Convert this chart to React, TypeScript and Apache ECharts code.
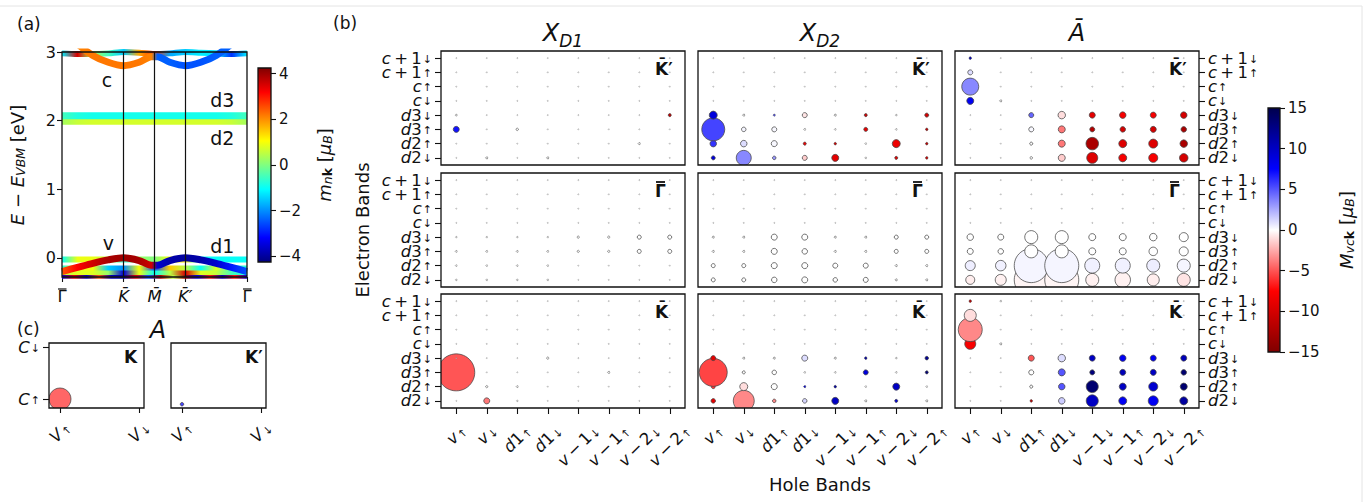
import React, { useEffect, useRef } from 'react';
import * as echarts from 'echarts';

const FONT = 'DejaVu Sans';
const INK = '#111111';
const THIN = '\u2009';

// ================= (a) band structure =================
const kTickVals = [0, 1, 1.5, 2, 3];
const kTickNames = ['\u0393', 'K\u0304', 'M\u0304', 'K\u0304\u2032', '\u0393'];
const kTickItalic = [false, true, true, true, false];
const kTickBar = [true, false, false, false, true];
const eTickVals = [0, 1, 2, 3];
const eMin = -0.28;
const eMax = 3;
const mTickVals = [-4, -2, 0, 2, 4];
const mLim = 4.25;

const kGrid = [0, 0.25, 0.5, 0.75, 1, 1.25, 1.5, 1.75, 2, 2.25, 2.5, 2.75, 3];
const kSplit = [0, 0.25, 0.5, 0.75, 1, 1.25, 1.45, 1.55, 1.75, 2, 2.25, 2.5, 2.75, 3];
const kFine = [0, 0.2, 0.4, 0.6, 0.8, 1, 1.2, 1.4, 1.6, 1.8, 2, 2.2, 2.4, 2.6, 2.8, 3];

const bandC_E = [3.35, 3.12, 2.95, 2.85, 2.8, 2.85, 2.93, 2.93, 2.85, 2.8, 2.85, 2.95, 3.12, 3.35];
const bandC_m = [2.1, 2.1, 2.2, 2.2, 2.2, 2.2, 2.1, -2.4, -2.4, -2.5, -2.5, -2.4, -2.4, -2.4];
const bandC1_E = [2.98, 2.97, 2.97, 2.98, 3.0, 2.99, 2.97, 2.98, 3.0, 2.99, 2.98, 2.97, 2.98];
const bandC1_m = [-1.2, 3.5, 0.3, -0.5, -1.5, 1.8, 2.8, -1.8, -1.5, -1.2, -1.3, -2.8, -1.2];
const bandD3_E = [2.07, 2.07, 2.07, 2.07, 2.07, 2.07, 2.07, 2.07, 2.07, 2.07, 2.07, 2.07, 2.07];
const bandD3_m = [-0.5, -0.8, -0.9, -0.9, -0.9, -0.9, -0.9, -0.9, -0.9, -0.9, -0.9, -0.8, -0.5];
const bandD2_E = [1.99, 1.99, 1.99, 1.99, 1.99, 1.99, 1.99, 1.99, 1.99, 1.99, 1.99, 1.99, 1.99];
const bandD2_m = [0.3, 0.6, 0.7, 0.7, 0.7, 0.7, 0.7, 0.7, 0.7, 0.7, 0.7, 0.6, 0.3];
const bandV_E = [-0.2, -0.14, -0.08, -0.03, 0, -0.04, -0.11, -0.11, -0.04, 0, -0.03, -0.08, -0.14, -0.2];
const bandV_m = [2.5, 3.2, 3.6, 3.9, 4.0, 3.9, 3.6, -3.6, -3.9, -4.0, -3.9, -3.6, -3.0, -2.5];
const bandD1_E = [-0.025, -0.025, -0.025, -0.025, -0.025, -0.025, -0.025, -0.025, -0.025, -0.025, -0.025, -0.025, -0.025];
const bandD1_m = [-1.0, 0.9, 0.9, 0.5, -0.8, 0.2, 0.0, 1.0, 1.2, -0.9, -1.0, -1.0, -1.0];
const bandL1_E = [-0.15, -0.15, -0.15, -0.15, -0.15, -0.15, -0.15, -0.15, -0.15, -0.15, -0.15, -0.15, -0.15];
const bandL1_m = [-0.8, 0.8, 1.0, -1.5, -2.0, 1.0, -2.5, 1.5, 0.5, -1.0, 0.8, -0.5, -0.8];
const bandL2_E = [-0.215, -0.215, -0.215, -0.215, -0.215, -0.215, -0.215, -0.215, -0.215, -0.215, -0.215, -0.215, -0.215];
const bandL2_m = [0.5, 0.8, 0.8, 0.2, -3.5, 0.9, -1.0, 0.5, 3.5, 0.8, 0.6, -0.5, -0.8];
const bandL3_E = [-0.27, -0.27, -0.27, -0.27, -0.27, -0.27, -0.27, -0.27, -0.27, -0.27, -0.27, -0.27, -0.27, -0.27, -0.27, -0.27];
const bandL3_m = [-3.5, 3.5, -3.8, 2.5, -3.8, -4.0, 3.5, -2.5, 3.8, 0.5, 4.0, -3.5, 3.0, -3.8, 3.0, -3.5];

const annText = ['c', 'v', 'd3', 'd2', 'd1'];
const annK = [0.73, 0.75, 2.6, 2.6, 2.6];
const annE = [2.59, 0.22, 2.3, 1.74, 0.17];

// ================= (b) excitons =================
const xCats = ['v\u2191', 'v\u2193', 'd1\u2191', 'd1\u2193', 'v\u22121\u2193', 'v\u22121\u2191', 'v\u22122\u2193', 'v\u22122\u2191'];
const yCats = ['d2\u2193', 'd2\u2191', 'd3\u2191', 'd3\u2193', 'c\u2193', 'c\u2191', 'c+1\u2191', 'c+1\u2193'];
const colTitles = ['XD1', 'XD2', 'A'];
const rowNames = ['K\u0304\u2032', '\u0393', 'K\u0304'];
const rowBar = [false, true, false];
const MV = 15;
const TINY = 1.1;

// [hole index, electron index, M_vck, amplitude]
const cellsXD1_Kp = [[0, 2, 7, 6], [0, 3, 0, 1.8], [1, 0, 0, 2], [3, 0, 0, 2], [2, 2, 0, 2.4], [6, 1, 0, 2], [7, 3, -11, 3]];
const cellsXD1_G = [
  [0, 0, 0, 1.6], [1, 0, 0, 1.6], [2, 0, 0, 1.6], [3, 0, 0, 1.6],
  [0, 1, 0, 1.6], [1, 1, 0, 1.6], [2, 1, 0, 1.6], [3, 1, 0, 1.6],
  [0, 2, 0, 1.8], [1, 2, 0, 1.8], [2, 2, 0, 1.8], [3, 2, 0, 1.8], [4, 2, 0, 2.2], [5, 2, 0, 2.2], [6, 2, 0, 4], [7, 2, 0, 4],
  [0, 3, 0, 1.5], [1, 3, 0, 1.5], [2, 3, 0, 1.5], [3, 3, 0, 1.5], [4, 3, 0, 2.2], [5, 3, 0, 2.2], [6, 3, 0, 4], [7, 3, 0, 4],
];
const cellsXD1_K = [[0, 2, -5, 37], [1, 0, -4, 6], [1, 1, 0, 2.2], [2, 1, 0, 1.8], [2, 0, 0, 1.5], [3, 3, 0, 2.2], [5, 2, 0, 2]];

const cellsXD2_Kp = [
  [0, 0, 9, 4], [0, 1, 6, 6.5], [0, 2, 5.5, 23], [0, 3, 9, 8],
  [1, 0, 3.5, 15], [1, 1, 1, 6.5], [1, 2, 0.3, 4.5], [1, 3, 0, 2],
  [2, 0, 3, 3.5], [2, 1, 0.2, 6], [2, 2, 0.2, 5], [2, 3, 5, 2],
  [3, 0, -1.5, 5], [3, 1, -8, 3], [3, 2, 0, 1.8], [3, 3, -0.8, 5],
  [4, 0, -9, 7], [4, 1, -10, 2.5], [4, 2, 0, 1.6], [4, 3, 0, 2],
  [5, 0, 0, 1.6], [5, 1, 0, 1.6], [5, 2, -9, 4], [5, 3, -10, 3],
  [6, 0, -9, 3], [6, 1, -8.5, 8], [6, 2, 0, 1.6], [6, 3, 0, 1.6],
  [7, 0, -10, 2.5], [7, 1, -11, 2.5], [7, 2, -11, 2.5], [7, 3, -10, 4],
];
const cellsXD2_G = [
  [0, 0, 0, 4], [1, 0, 0, 4], [2, 0, 0, 5.5], [3, 0, 0, 6], [4, 0, 0, 4.5], [5, 0, 0, 5], [6, 0, 0, 2], [7, 0, 0, 2],
  [0, 1, 0, 4], [1, 1, 0, 4], [2, 1, 0, 6], [3, 1, 0, 6], [4, 1, 0, 5], [5, 1, 0, 5], [6, 1, 0, 2], [7, 1, 0, 2],
  [0, 2, 0, 2], [1, 2, 0, 2], [2, 2, 0, 6], [3, 2, 0, 5.5], [4, 2, 0, 2], [5, 2, 0, 2], [6, 2, 0, 4], [7, 2, 0, 4],
  [0, 3, 0, 2], [1, 3, 0, 2], [2, 3, 0, 6], [3, 3, 0, 6], [4, 3, 0, 2], [5, 3, 0, 2], [6, 3, 0, 4], [7, 3, 0, 4],
];
const cellsXD2_K = [
  [0, 0, -9, 4.5], [0, 1, -6, 4], [0, 2, -5.5, 28], [0, 3, -9, 5],
  [1, 0, -3.5, 21], [1, 1, -1, 8], [1, 2, 0, 3], [1, 3, 0, 2],
  [2, 0, -3.5, 3.5], [2, 1, 0, 6], [2, 2, 0, 4.5], [2, 3, 0, 2],
  [3, 0, 1.2, 4.5], [3, 1, 9, 2], [3, 2, 0, 1.6], [3, 3, 1, 6],
  [4, 0, 10, 7], [4, 1, 11, 2.5], [4, 2, 0, 1.6], [4, 3, 0, 2],
  [5, 0, 0, 2], [5, 1, 0, 1.6], [5, 2, 9, 5], [5, 3, 11, 2.5],
  [6, 0, 9, 3], [6, 1, 10, 7], [6, 2, 0, 1.6], [6, 3, 0, 1.6],
  [7, 0, 0, 2], [7, 1, 0, 1.6], [7, 2, 13, 3], [7, 3, 12, 3.5],
];
const cellsA_Kp = [
  [0, 4, 8, 7], [0, 5, 3.5, 17], [0, 6, 1, 5], [0, 7, 10, 2.5], [1, 4, 0, 2],
  [2, 0, 0, 2.5], [2, 1, 0, 3], [2, 2, 0.2, 5], [2, 3, 4.5, 5],
  [3, 0, -1.5, 7], [3, 1, -4, 7], [3, 2, -4, 7], [3, 3, -1, 7.5],
  [4, 0, -9.5, 11], [4, 1, -12.5, 12.5], [4, 2, -12, 5], [4, 3, -9, 6],
  [5, 0, -8, 8], [5, 1, -9.5, 8], [5, 2, -10, 5.5], [5, 3, -8, 6.5],
  [6, 0, -8, 9], [6, 1, -9.5, 9], [6, 2, -10, 6], [6, 3, -8, 6],
  [7, 0, -10, 8.5], [7, 1, -12.5, 7.5], [7, 2, -12.5, 5.5], [7, 3, -10, 6.5],
];
const cellsA_G = [
  [0, 0, -0.5, 9], [1, 0, -0.4, 11], [2, 0, -0.3, 34], [3, 0, -0.3, 34], [4, 0, -0.4, 13], [5, 0, -0.4, 15.5], [6, 0, -0.5, 12], [7, 0, -0.8, 13],
  [0, 1, 0.5, 10], [1, 1, 0.4, 10.5], [2, 1, 0.3, 34], [3, 1, 0.3, 34], [4, 1, 0.4, 15], [5, 1, 0.4, 15], [6, 1, 0.5, 13], [7, 1, 0.3, 13],
  [0, 2, 0, 6], [1, 2, 0, 5.5], [2, 2, 0, 13], [3, 2, 0, 13], [4, 2, 0, 7], [5, 2, 0, 7], [6, 2, 0, 8.5], [7, 2, 0, 9],
  [0, 3, 0, 6.5], [1, 3, 0, 6], [2, 3, 0, 13], [3, 3, 0, 13], [4, 3, 0, 7], [5, 3, 0, 7], [6, 3, 0, 7.5], [7, 3, 0, 9],
];
const cellsA_K = [
  [0, 4, -8, 11], [0, 5, -3.5, 24], [0, 6, -1, 12], [0, 7, -11, 2.5], [1, 4, 0, 2], [1, 7, 0, 1.6],
  [2, 0, -11, 2.5], [2, 1, 0, 3], [2, 2, 0, 5], [2, 3, -5, 6],
  [3, 0, 1.5, 6.5], [3, 1, 5, 6.5], [3, 2, 5, 7], [3, 3, 1, 7.5],
  [4, 0, 10, 12], [4, 1, 13.5, 12], [4, 2, 13, 5], [4, 3, 10, 6],
  [5, 0, 8, 8], [5, 1, 10, 7], [5, 2, 10.5, 6], [5, 3, 8, 6.5],
  [6, 0, 8, 10], [6, 1, 9.5, 9], [6, 2, 10, 6], [6, 3, 8, 6],
  [7, 0, 11.5, 8], [7, 1, 13.5, 7], [7, 2, 13.5, 5.5], [7, 3, 10.5, 6],
];

// ================= (c) =================
const cVLabels = ['V\u2191', 'V\u2193'];
const cCLabels = ['C\u2191', 'C\u2193'];
const cellsC_K = [[0, 0, -4.5, 22]];
const cellsC_Kp = [[0, -0.1, 5.5, 3.5]];

// ================= layout =================
const A_L = 62, A_T = 52, A_W = 185, A_H = 225;
const A_LABEL_MARGIN = 11;
const colLeft = [441, 698, 955];
const rowTop = [51, 173, 294];
const PW = 244, PH = 114;
const C_L = [49, 171], C_T = 343, C_W = 95, C_H = 65;

// ================= helpers =================
const clamp01 = (v: number) => Math.max(0, Math.min(1, v));
const rgb = (c: number[]) => `rgb(${Math.round(c[0] * 255)},${Math.round(c[1] * 255)},${Math.round(c[2] * 255)})`;
function jet(m: number) {
  const t = clamp01((m + mLim) / (2 * mLim));
  return rgb([clamp01(1.5 - Math.abs(4 * t - 3)), clamp01(1.5 - Math.abs(4 * t - 2)), clamp01(1.5 - Math.abs(4 * t - 1))]);
}
const seisStops: [number, number[]][] = [[0, [0, 0, 0.3]], [0.25, [0, 0, 1]], [0.5, [1, 1, 1]], [0.75, [1, 0, 0]], [1, [0.5, 0, 0]]];
function seismicR(M: number) {
  const s = 1 - clamp01((M + MV) / (2 * MV));
  for (let i = 0; i < seisStops.length - 1; i++) {
    const [a, ca] = seisStops[i];
    const [b, cb] = seisStops[i + 1];
    if (s <= b + 1e-9) {
      const f = (s - a) / (b - a);
      return rgb(ca.map((v, j) => v + (cb[j] - v) * f));
    }
  }
  return rgb(seisStops[seisStops.length - 1][1]);
}
function cbarStops(cmap: (v: number) => string, lo: number, hi: number) {
  const st = [];
  for (let i = 0; i <= 40; i++) {
    const f = i / 40;
    st.push({ offset: f, color: cmap(hi - f * (hi - lo)) });
  }
  return st;
}
const minusFmt = (v: number) => (v < 0 ? '\u2212' + Math.abs(v) : String(v));

function labParts(lab: string) {
  const arrow = lab.slice(-1);
  const body = lab.slice(0, -1);
  const rest = body.slice(1).replace('\u2212', THIN + '\u2212' + THIN).replace('+', THIN + '+' + THIN);
  return { head: body.slice(0, 1), rest, arrow };
}
function richOf(lab: string) {
  const p = labParts(lab);
  return `{i|${p.head}}` + (p.rest ? `{n|${p.rest}}` : '') + `{s|${p.arrow}}`;
}
const tickRich = (fs: number, key: 'color' | 'fill', lh: number) => ({
  i: { fontFamily: FONT, fontStyle: 'italic', fontSize: fs, lineHeight: lh, [key]: INK },
  n: { fontFamily: FONT, fontSize: fs, lineHeight: lh, [key]: INK },
  s: { fontFamily: FONT, fontSize: Math.round(fs * 0.64), lineHeight: Math.round(lh * 0.7), verticalAlign: 'bottom', [key]: INK, padding: [0, 0, 0, 1] },
});

let _ctx: any = null;
function tw(s: string, font: string) {
  if (!_ctx) _ctx = document.createElement('canvas').getContext('2d');
  _ctx.font = font;
  return _ctx.measureText(s).width;
}
function rotLabel(cx: number, axisY: number, lab: string, P: number, fs: number) {
  const p = labParts(lab);
  const w = tw(p.head, `italic ${fs}px "${FONT}"`) + tw(p.rest, `${fs}px "${FONT}"`) + tw(p.arrow, `${Math.round(fs * 0.64)}px "${FONT}"`);
  const h = fs * 0.85;
  const off = P + (w + h) / (2 * Math.SQRT2);
  return {
    type: 'text', x: cx, y: axisY + off, rotation: Math.PI / 4, silent: true,
    style: { text: richOf(lab), rich: tickRich(fs, 'fill', fs + 2), align: 'center', verticalAlign: 'middle', fill: INK, fontFamily: FONT, fontSize: fs },
  };
}
function fullGrid(entries: number[][]) {
  const out: number[][] = [];
  for (let y = 0; y < yCats.length; y++) {
    for (let x = 0; x < xCats.length; x++) {
      const e = entries.find((d) => d[0] === x && d[1] === y);
      out.push(e ? e : [x, y, 0, TINY]);
    }
  }
  return out;
}
const bubbleItem = (params: any, api: any) => {
  const p = api.coord([api.value(0), api.value(1)]);
  const d = api.value(3) as number;
  return {
    type: 'circle',
    shape: { cx: p[0], cy: p[1], r: d / 2 },
    style: { fill: seismicR(api.value(2) as number), stroke: 'rgba(70,70,70,0.85)', lineWidth: Math.min(0.9, 0.3 * d) },
  };
};
const cbarItem = (stops: any) => (params: any, api: any) => {
  const a = api.coord([0, api.value(2)]);
  const b = api.coord([1, api.value(1)]);
  return {
    type: 'rect',
    shape: { x: a[0], y: a[1], width: b[0] - a[0], height: b[1] - a[1] },
    style: { fill: new echarts.graphic.LinearGradient(0, 0, 0, 1, stops) },
  };
};

const frame = (left: number, top: number, width: number, height: number) => ({
  left, top, width, height, show: true, borderColor: INK, borderWidth: 1.3, backgroundColor: 'rgba(0,0,0,0)', z: 5,
});
const hide = { show: false };
const noLine = { show: false, onZero: false };
const tickLine = { lineStyle: { color: INK, width: 1.1 } };

function buildOption() {
  const grids: any[] = [];
  const xAxes: any[] = [];
  const yAxes: any[] = [];
  const series: any[] = [];

  // 0: band structure
  grids.push(frame(A_L, A_T, A_W, A_H));
  xAxes.push({
    gridIndex: 0, type: 'value', min: 0, max: 3, position: 'bottom', axisLine: noLine, splitLine: hide,
    axisTick: { show: true, customValues: kTickVals, length: 5, ...tickLine },
    axisLabel: {
      show: true, customValues: kTickVals, margin: A_LABEL_MARGIN,
      formatter: (v: number) => {
        const i = kTickVals.findIndex((x) => Math.abs(x - v) < 1e-6);
        if (i < 0) return '';
        return kTickItalic[i] ? `{i|${kTickNames[i]}}` : `{u|${kTickNames[i]}}`;
      },
      rich: {
        i: { fontFamily: FONT, fontStyle: 'italic', fontSize: 16.5, color: INK },
        u: { fontFamily: FONT, fontSize: 16.5, color: INK },
      },
    },
  });
  yAxes.push({
    gridIndex: 0, type: 'value', min: eMin, max: eMax, position: 'left', axisLine: noLine, splitLine: hide,
    axisTick: { show: true, customValues: eTickVals, length: 5, ...tickLine },
    axisLabel: {
      customValues: eTickVals, margin: 6, fontFamily: FONT, fontSize: 16, color: INK,
      formatter: (v: number) => (eTickVals.some((x) => Math.abs(x - v) < 1e-6) ? String(Math.round(v)) : ''),
    },
  });

  // 1: colorbar (a)
  grids.push(frame(258, 68, 13, 194));
  xAxes.push({ gridIndex: 1, type: 'value', min: 0, max: 1, show: false, axisLine: noLine });
  yAxes.push({
    gridIndex: 1, type: 'value', min: -mLim, max: mLim, position: 'right', axisLine: noLine, splitLine: hide,
    axisTick: { show: true, customValues: mTickVals, length: 5, ...tickLine },
    axisLabel: {
      customValues: mTickVals, margin: 8, fontFamily: FONT, fontSize: 15, color: INK,
      formatter: (v: number) => (mTickVals.some((x) => Math.abs(x - v) < 1e-6) ? minusFmt(Math.round(v)) : ''),
    },
  });

  // 2,3: (c)
  for (let j = 0; j < 2; j++) {
    grids.push(frame(C_L[j], C_T, C_W, C_H));
    xAxes.push({
      gridIndex: 2 + j, type: 'value', min: -0.139, max: 1.063, position: 'bottom', axisLine: noLine, splitLine: hide,
      axisTick: { show: true, customValues: [0, 1], length: 5, ...tickLine }, axisLabel: hide,
    });
    yAxes.push({
      gridIndex: 2 + j, type: 'value', min: -0.173, max: 1.077, position: 'left', axisLine: noLine, splitLine: hide,
      axisTick: { show: j === 0, customValues: [0, 1], length: 6, ...tickLine },
      axisLabel: {
        show: j === 0, customValues: [0, 1], margin: 9,
        formatter: (v: number) => (Math.abs(v) < 1e-6 ? richOf(cCLabels[0]) : Math.abs(v - 1) < 1e-6 ? richOf(cCLabels[1]) : ''),
        rich: tickRich(16.5, 'color', 14),
      },
    });
  }

  // 4..12: (b) panels
  const panelCells = [
    [cellsXD1_Kp, cellsXD2_Kp, cellsA_Kp],
    [cellsXD1_G, cellsXD2_G, cellsA_G],
    [cellsXD1_K, cellsXD2_K, cellsA_K],
  ];
  for (let r = 0; r < 3; r++) {
    for (let c = 0; c < 3; c++) {
      const gi = grids.length;
      grids.push(frame(colLeft[c], rowTop[r], PW, PH));
      xAxes.push({
        gridIndex: gi, type: 'category', data: xCats, position: 'bottom', axisLine: noLine, splitLine: hide,
        axisTick: { show: r === 2, alignWithLabel: true, interval: 0, length: 6, ...tickLine },
        axisLabel: hide,
      });
      yAxes.push({
        gridIndex: gi, type: 'category', data: yCats, position: c === 2 ? 'right' : 'left', axisLine: noLine, splitLine: hide,
        axisTick: { show: c !== 1, alignWithLabel: true, interval: 0, length: 6, ...tickLine },
        axisLabel: { show: c !== 1, interval: 0, margin: 9, formatter: (v: string) => richOf(v), rich: tickRich(16.5, 'color', 13) },
      });
      series.push({
        type: 'custom', xAxisIndex: gi, yAxisIndex: gi, clip: true, silent: true,
        data: fullGrid(panelCells[r][c]), renderItem: bubbleItem, encode: { x: 0, y: 1 },
      });
    }
  }

  // 13: colorbar (b)
  const cbi = grids.length;
  grids.push(frame(1268, 108, 12, 244));
  xAxes.push({ gridIndex: cbi, type: 'value', min: 0, max: 1, show: false, axisLine: noLine });
  yAxes.push({
    gridIndex: cbi, type: 'value', min: -MV, max: MV, interval: 5, position: 'right', axisLine: noLine, splitLine: hide,
    axisTick: { show: true, length: 5, ...tickLine },
    axisLabel: { margin: 8, fontFamily: FONT, fontSize: 15, color: INK, formatter: (v: number) => minusFmt(v) },
  });

  // band lines
  const bands = [
    { k: kFine, E: bandL3_E, m: bandL3_m, w: 5 },
    { k: kGrid, E: bandL2_E, m: bandL2_m, w: 5 },
    { k: kGrid, E: bandL1_E, m: bandL1_m, w: 5 },
    { k: kGrid, E: bandD1_E, m: bandD1_m, w: 6 },
    { k: kSplit, E: bandV_E, m: bandV_m, w: 7 },
    { k: kGrid, E: bandD2_E, m: bandD2_m, w: 7 },
    { k: kGrid, E: bandD3_E, m: bandD3_m, w: 7 },
    { k: kGrid, E: bandC1_E, m: bandC1_m, w: 6 },
    { k: kSplit, E: bandC_E, m: bandC_m, w: 7 },
  ];
  bands.forEach((b, bi) => {
    const s: any = {
      type: 'line', xAxisIndex: 0, yAxisIndex: 0, showSymbol: false, symbol: 'none', smooth: 0.3, clip: true, silent: true,
      data: b.k.map((k, i) => [k, b.E[i]]),
      lineStyle: {
        width: b.w, cap: 'butt',
        color: new echarts.graphic.LinearGradient(A_L, 0, A_L + A_W, 0, b.k.map((k, i) => ({ offset: k / 3, color: jet(b.m[i]) })), true),
      },
    };
    if (bi === bands.length - 1) {
      s.markLine = {
        silent: true, symbol: ['none', 'none'], label: { show: false },
        lineStyle: { color: INK, width: 1.2, type: 'solid' },
        data: [{ xAxis: 1 }, { xAxis: 1.5 }, { xAxis: 2 }],
      };
    }
    series.push(s);
  });
  series.push({
    type: 'custom', xAxisIndex: 0, yAxisIndex: 0, clip: false, silent: true, z: 6,
    data: annK.map((k, i) => [k, annE[i]]),
    renderItem: (params: any, api: any) => {
      const p = api.coord([api.value(0), api.value(1)]);
      return { type: 'text', x: p[0], y: p[1], style: { text: annText[params.dataIndex], fontFamily: FONT, fontSize: 19, fill: INK, align: 'center', verticalAlign: 'middle' } };
    },
  });

  // colorbars
  series.push({ type: 'custom', xAxisIndex: 1, yAxisIndex: 1, silent: true, data: [[0, -mLim, mLim]], renderItem: cbarItem(cbarStops(jet, -mLim, mLim)) });
  series.push({ type: 'custom', xAxisIndex: cbi, yAxisIndex: cbi, silent: true, data: [[0, -MV, MV]], renderItem: cbarItem(cbarStops(seismicR, -MV, MV)) });

  // (c) bubbles
  series.push({ type: 'custom', xAxisIndex: 2, yAxisIndex: 2, clip: true, silent: true, data: cellsC_K, renderItem: bubbleItem });
  series.push({ type: 'custom', xAxisIndex: 3, yAxisIndex: 3, clip: true, silent: true, data: cellsC_Kp, renderItem: bubbleItem });

  return { animation: false, backgroundColor: '#ffffff', grid: grids, xAxis: xAxes, yAxis: yAxes, series };
}

function txt(x: number, y: number, text: string, extra: any = {}, rotation = 0) {
  return {
    type: 'text', x, y, rotation, silent: true,
    style: { text, fontFamily: FONT, fontSize: 17, fill: INK, align: 'left', verticalAlign: 'middle', ...extra },
  };
}
function bar(x1: number, x2: number, y: number, w = 1.4) {
  return { type: 'line', silent: true, shape: { x1, y1: y, x2, y2: y }, style: { stroke: INK, lineWidth: w } };
}

function buildGraphics(chart: any) {
  const els: any[] = [];
  els.push({ type: 'rect', silent: true, z: -10, shape: { x: -2, y: 6, width: 1364, height: 520 }, style: { fill: 'none', stroke: '#e4e4e4', lineWidth: 1 } });
  els.push(txt(17, 24, '(a)'));
  els.push(txt(333, 23, '(b)'));
  els.push(txt(17, 329, '(c)'));

  const titleRich = {
    x: { fontFamily: FONT, fontStyle: 'italic', fontSize: 24, lineHeight: 32, fill: INK },
    d: { fontFamily: FONT, fontStyle: 'italic', fontSize: 17, lineHeight: 17, verticalAlign: 'bottom', fill: INK },
  };
  const colCenters = colLeft.map((l) => l + PW / 2);
  els.push(txt(colCenters[0], 33, '{x|X}{d|' + colTitles[0].slice(1) + '}', { rich: titleRich, align: 'center' }));
  els.push(txt(colCenters[1], 33, '{x|X}{d|' + colTitles[1].slice(1) + '}', { rich: titleRich, align: 'center' }));
  els.push(txt(colCenters[2], 33, colTitles[2] + '\u0304', { fontStyle: 'italic', fontSize: 24, align: 'center' }));
  els.push(txt(158, 330, 'A', { fontStyle: 'italic', fontSize: 24, align: 'center' }));

  els.push(txt(820, 484, 'Hole Bands', { fontSize: 18, align: 'center' }));
  els.push(txt(362, 230, 'Electron Bands', { fontSize: 18, align: 'center' }, Math.PI / 2));

  const axRich = {
    i: { fontFamily: FONT, fontStyle: 'italic', fontSize: 18, lineHeight: 20, fill: INK },
    si: { fontFamily: FONT, fontStyle: 'italic', fontSize: 12.5, lineHeight: 12, verticalAlign: 'bottom', fill: INK },
    sb: { fontFamily: FONT, fontWeight: 'bold', fontSize: 12.5, lineHeight: 12, verticalAlign: 'bottom', fill: INK },
  };
  els.push(txt(17, 165, '{i|E} \u2212 {i|E}{si|VBM} [eV]', { fontSize: 18, align: 'center', rich: axRich }, Math.PI / 2));
  els.push(txt(324, 165, '{i|m}{si|n}{sb|k} [{i|\u03bc}{si|B}]', { fontSize: 18, align: 'center', rich: axRich }, Math.PI / 2));
  els.push(txt(1346, 230, '{i|M}{si|vc}{sb|k} [{i|\u03bc}{si|B}]', { fontSize: 18, align: 'center', rich: axRich }, Math.PI / 2));

  for (let r = 0; r < 3; r++) {
    for (let c = 0; c < 3; c++) {
      const lx = colLeft[c] + 214;
      els.push(txt(lx, rowTop[r] + 9, rowNames[r], { fontWeight: 'bold', verticalAlign: 'top' }));
      if (rowBar[r]) els.push(bar(lx + 1, lx + 10, rowTop[r] + 9, 1.8));
    }
  }
  els.push(txt(C_L[0] + 75, C_T + 5, 'K', { fontWeight: 'bold', verticalAlign: 'top' }));
  els.push(txt(C_L[1] + 74, C_T + 5, 'K\u2032', { fontWeight: 'bold', verticalAlign: 'top' }));

  // overbars for the Gamma tick labels of (a)
  kTickVals.forEach((v, i) => {
    if (!kTickBar[i]) return;
    const px = chart.convertToPixel({ xAxisIndex: 0 }, v);
    els.push(bar(px - 4, px + 4.5, A_T + A_H + A_LABEL_MARGIN + 1, 1.2));
  });

  // rotated hole-band labels under the bottom row
  for (let c = 0; c < 3; c++) {
    const axisIdx = 4 + 2 * 3 + c;
    xCats.forEach((lab, i) => {
      const px = chart.convertToPixel({ xAxisIndex: axisIdx }, i);
      els.push(rotLabel(px, rowTop[2] + PH, lab, 15, 16.5));
    });
  }
  for (let j = 0; j < 2; j++) {
    cVLabels.forEach((lab, i) => {
      const px = chart.convertToPixel({ xAxisIndex: 2 + j }, i);
      els.push(rotLabel(px, C_T + C_H, lab, 12, 16.5));
    });
  }
  return els;
}

export default function App() {
  const ref = useRef<HTMLDivElement>(null);
  useEffect(() => {
    if (!ref.current) return;
    const chart = echarts.init(ref.current, undefined, { renderer: 'svg' });
    chart.setOption(buildOption());
    chart.setOption({ graphic: buildGraphics(chart) });
    return () => chart.dispose();
  }, []);
  return <div ref={ref} style={{ position: 'fixed', left: 0, top: 0, width: 1369, height: 502, background: '#fff' }} />;
}
